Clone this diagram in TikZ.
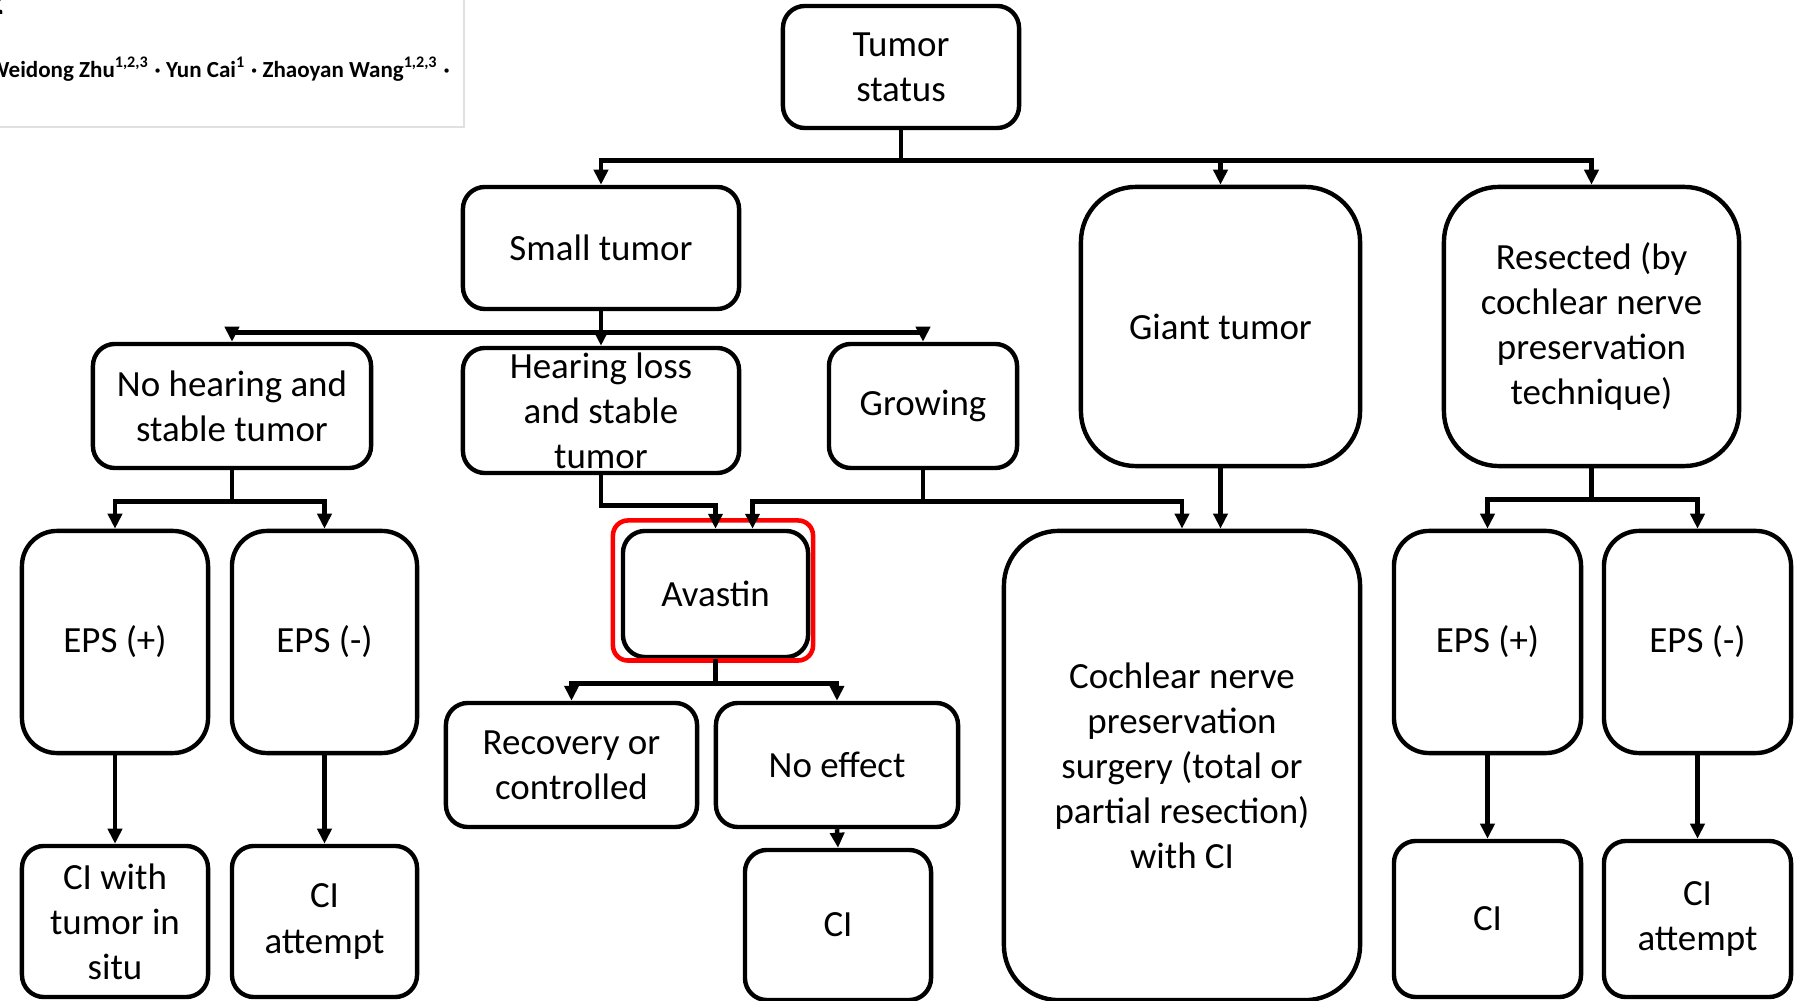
\documentclass[tikz,border=0pt]{standalone}
\usepackage{fontspec}
\setmainfont{Carlito}
\usetikzlibrary{arrows.meta}

\begin{document}
\begin{tikzpicture}[x=0.01cm, y=-0.01cm, line width=1.3pt,
    every node/.style={font=\fontsize{10.5}{12.8}\selectfont},
    box/.style={draw, line width=1.25pt, rounded corners=0.22cm, align=center, inner sep=0pt},
    tallbox/.style={box, rounded corners=0.35cm},
    bigbox/.style={box, rounded corners=0.55cm},
    redmark/.style={draw=red, line width=1.3pt, rounded corners=0.15cm, inner sep=0pt},
    arr/.style={-{Triangle[length=1.5mm,width=1.4mm]}}]
    \useasboundingbox (0,0) rectangle (1803,1001);
    % cut-off header of the page
    \draw[black!12, line width=0.6pt] (-10,127) -| (464,-10);
    \node [anchor=base east, inner sep=0pt, font=\fontsize{11}{13}\selectfont\bfseries] (fignum) at (6,15) {2};
    \node [anchor=base east, inner sep=0pt, font=\fontsize{6.55}{8}\selectfont\bfseries] (authors) at (452,78) {Weidong Zhu\textsuperscript{1,2,3} · Yun Cai\textsuperscript{1} · Zhaoyan Wang\textsuperscript{1,2,3} ·};
    % level 1
    \node [box, minimum width=2.36cm, minimum height=1.22cm] (tumor) at (901,67) {Tumor\\status};
    % level 2
    \node [box, minimum width=2.76cm, minimum height=1.22cm] (small) at (601,248) {Small tumor};
    \node [bigbox, minimum width=2.79cm, minimum height=2.79cm] (giant) at (1220.5,326.5) {Giant tumor};
    \node [bigbox, minimum width=2.95cm, minimum height=2.79cm] (resected) at (1591.5,326.5) {Resected (by\\cochlear nerve\\preservation\\technique)};
    % level 3
    \node [box, minimum width=2.78cm, minimum height=1.24cm] (nohear) at (232,406) {No hearing and\\stable tumor};
    \node [box, minimum width=2.76cm, minimum height=1.25cm] (hearloss) at (601,410.5) {Hearing loss\\and stable\\tumor};
    \node [box, minimum width=1.88cm, minimum height=1.24cm] (growing) at (923,406) {Growing};
    % level 4
    \node [tallbox, minimum width=1.86cm, minimum height=2.22cm] (epsposL) at (115,642) {EPS (+)};
    \node [tallbox, minimum width=1.85cm, minimum height=2.22cm] (epsnegL) at (324.5,642) {EPS (-)};
    \node [box, minimum width=1.85cm, minimum height=1.26cm] (avastin) at (715.5,594) {Avastin};
    \node [redmark, minimum width=2.0cm, minimum height=1.4cm] (highlight) at (713,590.5) {};
    \node [bigbox, minimum width=3.56cm, minimum height=4.69cm] (cochlear) at (1182,765.5) {Cochlear nerve\\preservation\\surgery (total or\\partial resection)\\with CI};
    \node [tallbox, minimum width=1.87cm, minimum height=2.22cm] (epsposR) at (1487.5,642) {EPS (+)};
    \node [tallbox, minimum width=1.87cm, minimum height=2.22cm] (epsnegR) at (1697.5,642) {EPS (-)};
    % level 5
    \node [box, minimum width=2.51cm, minimum height=1.24cm] (recovery) at (571.5,765) {Recovery or\\controlled};
    \node [box, minimum width=2.42cm, minimum height=1.24cm] (noeffect) at (837,765) {No effect};
    % level 6
    \node [box, minimum width=1.86cm, minimum height=1.51cm] (ciL) at (115,921.5) {CI with\\tumor in\\situ};
    \node [box, minimum width=1.85cm, minimum height=1.51cm] (attemptL) at (324.5,921.5) {CI\\attempt};
    \node [box, minimum width=1.86cm, minimum height=1.5cm] (ciM) at (838,925) {CI};
    \node [box, minimum width=1.87cm, minimum height=1.56cm] (ciR) at (1487.5,919) {CI};
    \node [box, minimum width=1.87cm, minimum height=1.56cm] (attemptR) at (1697.5,919) {CI\\attempt};
    % connectors
    \draw[arr] (tumor.south) -- ++(0,30) -| (small.north);
    \draw[arr] (tumor.south) -- ++(0,30) -| (giant.north);
    \draw[arr] (tumor.south) -- ++(0,30) -| (resected.north);
    \draw[arr] (small.south) -- ++(0,21) -| (nohear.north);
    \draw[arr] (small.south) -- (hearloss.north);
    \draw[arr] (small.south) -- ++(0,21) -| (growing.north);
    \draw[arr] (nohear.south) -- ++(0,31) -| (epsposL.north);
    \draw[arr] (nohear.south) -- ++(0,31) -| (epsnegL.north);
    \draw[arr] (hearloss.south) -- ++(0,30) -| (avastin.north);
    \draw[arr] (growing.south) -- ++(0,31) -| ([xshift=0.37cm]avastin.north);
    \draw[arr] (growing.south) -- ++(0,31) -| (cochlear.north);
    \draw[arr] (giant.south) -- (giant.south |- cochlear.north);
    \draw[arr] (resected.south) -- ++(0,31) -| (epsposR.north);
    \draw[arr] (resected.south) -- ++(0,31) -| (epsnegR.north);
    \draw[arr] (avastin.south) -- ++(0,24) -| (recovery.north);
    \draw[arr] (avastin.south) -- ++(0,24) -| (noeffect.north);
    \draw[arr] (noeffect.south) -- (ciM.north);
    \draw[arr] (epsposL.south) -- (ciL.north);
    \draw[arr] (epsnegL.south) -- (attemptL.north);
    \draw[arr] (epsposR.south) -- (ciR.north);
    \draw[arr] (epsnegR.south) -- (attemptR.north);
\end{tikzpicture}
\end{document}
